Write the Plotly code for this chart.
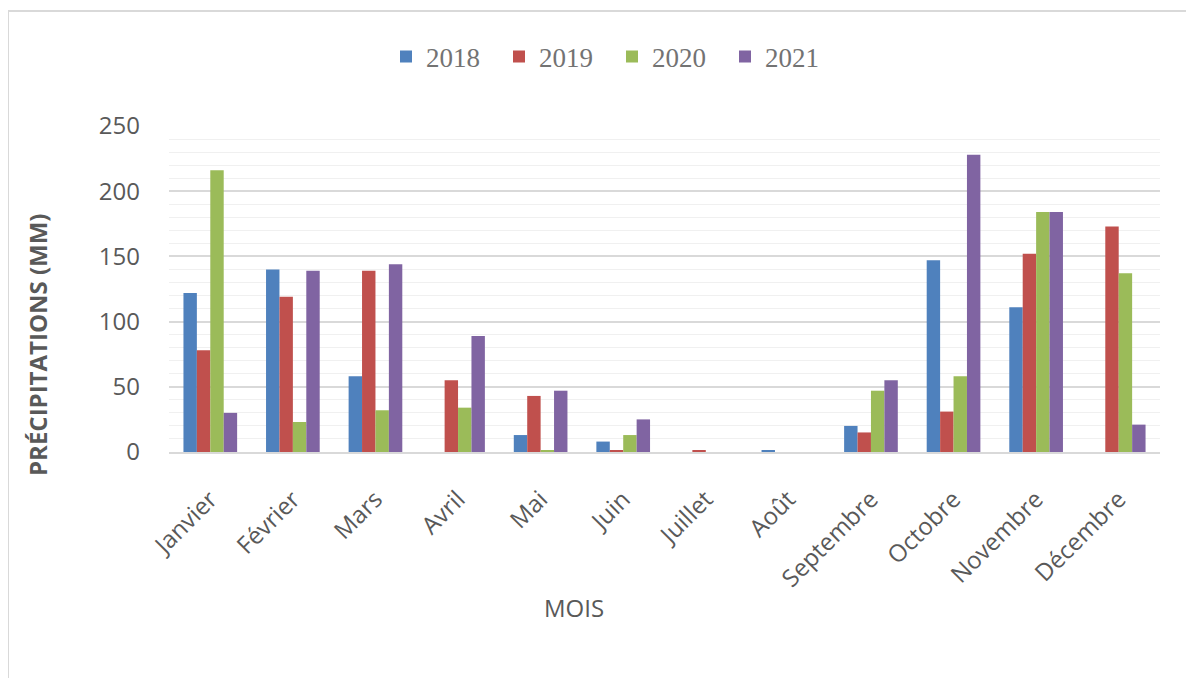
import plotly.graph_objects as go

months = ["Janvier", "Février", "Mars", "Avril", "Mai", "Juin", "Juillet",
          "Août", "Septembre", "Octobre", "Novembre", "Décembre"]
years = ["2018", "2019", "2020", "2021"]
p2018 = [122, 140, 58, 0, 13, 8, 0, 1.5, 20, 147, 111, 0]
p2019 = [78, 119, 139, 55, 43, 1.5, 1.5, 0, 15, 31, 152, 173]
p2020 = [216, 23, 32, 34, 1.5, 13, 0, 0, 47, 58, 184, 137]
p2021 = [30, 139, 144, 89, 47, 25, 0, 0, 55, 228, 184, 21]
series = [p2018, p2019, p2020, p2021]
colors = ["#4F81BD", "#C0504D", "#9BBB59", "#8064A2"]
y_ticks = [0, 50, 100, 150, 200, 250]

OFF = 8  # page body margin
W, H = 1194 - OFF, 678 - OFF
L, R, T, B = 169 - OFF, 1160 - OFF, 126 - OFF, 452 - OFF
pw, ph = R - L, B - T

def px(x):
    return (x - OFF - L) / pw

def py(y):
    return (B - (y - OFF)) / ph

fig = go.Figure()
for name, vals, c in zip(years, series, colors):
    fig.add_trace(go.Bar(x=months, y=vals, name=name,
                         marker=dict(color=c, line=dict(width=0))))

gray = "#595959"
fig.update_layout(
    width=W, height=H,
    margin=dict(l=L, r=W - R, t=T, b=H - B, pad=0),
    plot_bgcolor="white", paper_bgcolor="white",
    barmode="group", bargap=0.35, bargroupgap=0,
    font=dict(family="Open Sans", color=gray),
    legend=dict(orientation="h", x=px(612), y=py(57), xanchor="center",
                yanchor="middle", font=dict(family="Liberation Serif", size=27, color="#737373"),
                entrywidth=68, itemwidth=30, bgcolor="rgba(0,0,0,0)"),
    xaxis=dict(tickangle=-45, tickfont=dict(size=24, color=gray),
               showgrid=False, showline=True, linecolor="#d9d9d9", linewidth=1.5,
               ticks="", ticklabelstandoff=22),
    yaxis=dict(range=[0, 250], tickvals=y_ticks, tickfont=dict(size=24, color=gray),
               showgrid=True, gridcolor="#d9d9d9", gridwidth=1.5,
               minor=dict(dtick=10, showgrid=True, gridcolor="#f0f0f0", gridwidth=1),
               zeroline=False, showline=False, ticks="", ticklabelstandoff=28),
    showlegend=True,
)

fig.add_annotation(text="<b>PRÉCIPITATIONS (MM)</b>", textangle=-90,
                   xref="paper", yref="paper", x=px(37), y=py(345),
                   xanchor="center", yanchor="middle",
                   showarrow=False, font=dict(size=24, color=gray))
fig.add_annotation(text="MOIS", xref="paper", yref="paper", x=px(574), y=py(607),
                   xanchor="center", yanchor="middle",
                   showarrow=False, font=dict(size=24, color=gray))

fig.add_shape(type="rect", xref="paper", yref="paper",
              x0=px(8), x1=px(1192), y0=py(700), y1=py(11),
              line=dict(color="#d9d9d9", width=2), layer="below")

fig.write_html("out.html")
